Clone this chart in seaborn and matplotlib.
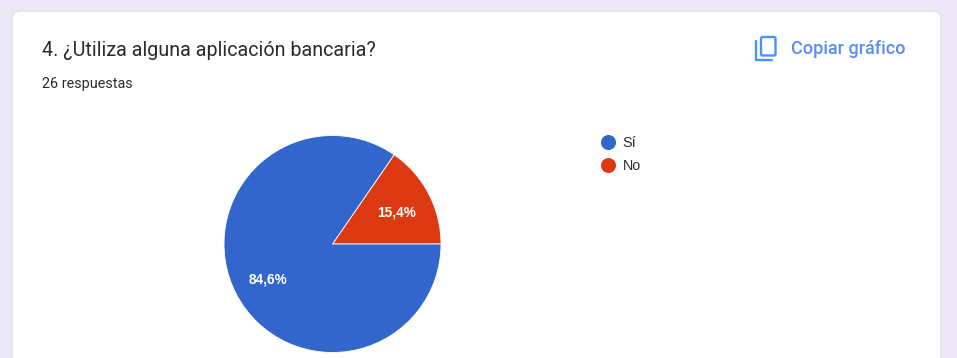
import matplotlib
matplotlib.use("Agg")
import matplotlib.pyplot as plt
from matplotlib.lines import Line2D
from matplotlib.patches import FancyBboxPatch
import seaborn as sns

# Survey results
question = "4. ¿Utiliza alguna aplicación bancaria?"
answers_note = "26 respuestas"
copy_label = "Copiar gráfico"
categories = ["Sí", "No"]
counts = [22, 4]
colors = ["#3366cc", "#dc3912"]

sns.set_theme(style="white")
plt.rcParams["font.family"] = ["Roboto", "DejaVu Sans"]

W, H = 957, 358
fig = plt.figure(figsize=(W / 100, H / 100), dpi=100, facecolor="#ece8f7")

# Page layer measured in pixels, with the origin at the top left
page = fig.add_axes([0, 0, 1, 1])
page.set_xlim(0, W)
page.set_ylim(H, 0)
page.axis("off")

page.add_patch(FancyBboxPatch((12, 11), 929, 400, boxstyle="round,pad=0,rounding_size=8",
                              fc="white", ec="#e0e0e4", lw=1.0, mutation_aspect=1))

page.text(42, 51, question, fontsize=14.2, color="#2b2b30", va="center", ha="left")
page.text(42, 84, answers_note, fontsize=10.4, color="#2b2b30", va="center", ha="left")
page.text(791, 48.5, copy_label, fontsize=13, color="#5b8def", va="center", ha="left",
          fontweight="medium")

# Copy icon: front sheet plus the L-shaped edge of the sheet behind it
blue = "#2f80ed"
page.add_patch(FancyBboxPatch((761, 37), 14.5, 18.5, boxstyle="round,pad=0,rounding_size=1.5",
                              fc="none", ec=blue, lw=1.7, alpha=0.85))
page.plot([756, 756, 772], [41, 59.5, 59.5], color=blue, lw=1.7, alpha=0.85,
          solid_capstyle="round", solid_joinstyle="round")

# Pie chart, counter-clockwise from 3 o'clock with the smaller slice first
cx, cy, radius = 332.5, 244, 108.5
pad = 3
side = 2 * (radius + pad)
pie_ax = fig.add_axes([(cx - side / 2) / W, 1 - (cy + side / 2) / H, side / W, side / H])
wedges, _, pct_texts = pie_ax.pie(
    counts[::-1], colors=colors[::-1], startangle=0, counterclock=True, radius=1,
    pctdistance=0.67, autopct=lambda p: f"{p:.1f}%".replace(".", ","),
    wedgeprops={"edgecolor": "white", "linewidth": 0.6},
    textprops={"color": "white", "fontsize": 9.8, "family": "Liberation Sans",
               "fontweight": "bold"},
)
for t in pct_texts:
    x, y = t.get_position()
    t.set_position((x, y - 2 / radius))
limit = 1 + pad / radius
pie_ax.set_xlim(-limit, limit)
pie_ax.set_ylim(-limit, limit)
pie_ax.patch.set_visible(False)

# Legend with round swatches, drawn in its own column to the right of the pie
handles = [Line2D([], [], linestyle="none", marker="o", markersize=9.8,
                  markerfacecolor=c, markeredgecolor=c) for c in colors]
legend = page.legend(handles, categories, loc="upper left", bbox_to_anchor=(600 / W, 1 - 136 / H),
                     bbox_transform=fig.transFigure, frameon=False,
                     prop={"family": "Liberation Sans", "size": 10.4},
                     labelspacing=0.64, handletextpad=0.48, handlelength=1.1, borderpad=0,
                     borderaxespad=0)
for t in legend.get_texts():
    t.set_color("#2b2b30")

fig.savefig("out.png", dpi=100, facecolor=fig.get_facecolor())
